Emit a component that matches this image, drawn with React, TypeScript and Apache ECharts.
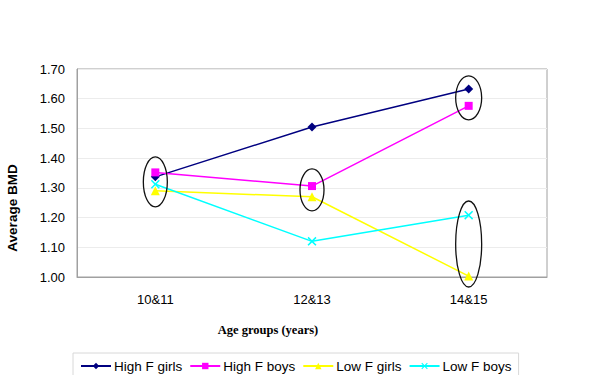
import React, { useEffect, useRef } from "react";
import * as echarts from "echarts";

const categories = ["10&11", "12&13", "14&15"];
const highFGirls = [1.337, 1.505, 1.633];
const highFBoys = [1.352, 1.306, 1.576];
const lowFGirls = [1.29, 1.27, 1.003];
const lowFBoys = [1.312, 1.12, 1.208];
const yTicks = [1.0, 1.1, 1.2, 1.3, 1.4, 1.5, 1.6, 1.7];

// annotation ellipses: category index, centre value, radii in px
const ellipses = [
  { cat: 0, val: 1.32, rx: 12, ry: 25 },
  { cat: 1, val: 1.293, rx: 12, ry: 21 },
  { cat: 2, val: 1.603, rx: 13, ry: 22 },
  { cat: 2, val: 1.111, rx: 13, ry: 43 },
];

const crossPath =
  "path://M0,1.2 L1.2,0 L5,3.8 L8.8,0 L10,1.2 L6.2,5 L10,8.8 L8.8,10 L5,6.2 L1.2,10 L0,8.8 L3.8,5 Z";

export default function App() {
  const ref = useRef<HTMLDivElement>(null);
  useEffect(() => {
    if (!ref.current) return;
    const chart = echarts.init(ref.current, undefined, { renderer: "svg" });
    const font = "Arial, 'Liberation Sans', sans-serif";
    const mk = (name: string, data: number[], color: string, symbol: string, size: number) => ({
      name,
      type: "line",
      data,
      symbol,
      symbolSize: size,
      showSymbol: true,
      lineStyle: { color, width: 1.5 },
      itemStyle: { color },
    });
    chart.setOption({
      animation: false,
      backgroundColor: "#ffffff",
      grid: {
        left: 77,
        right: 53,
        top: 69,
        bottom: 98,
        show: true,
        borderColor: "#a0a0a0",
        borderWidth: 1,
        backgroundColor: "transparent",
      },
      xAxis: {
        type: "category",
        data: categories,
        boundaryGap: true,
        axisLine: { show: true, lineStyle: { color: "#a0a0a0" } },
        axisTick: { show: false },
        axisLabel: { color: "#000", fontFamily: font, fontSize: 13, margin: 16 },
        splitLine: { show: false },
      },
      yAxis: {
        type: "value",
        min: yTicks[0],
        max: yTicks[yTicks.length - 1],
        interval: 0.1,
        axisLine: { show: true, lineStyle: { color: "#a0a0a0" } },
        axisTick: { show: false },
        axisLabel: {
          color: "#000",
          fontFamily: font,
          fontSize: 13,
          margin: 12,
          formatter: (v: number) => v.toFixed(2),
        },
        splitLine: { show: true, lineStyle: { color: "#ececec", width: 1 } },
      },
      legend: {
        bottom: -10,
        left: 73,
        width: 460,
        itemWidth: 30,
        itemHeight: 8,
        itemGap: 7,
        padding: [6, 7, 12, 7],
        borderColor: "#d8d8d8",
        borderWidth: 1,
        textStyle: { color: "#000", fontFamily: font, fontSize: 13.5, padding: [0, 0, 0, -2] },
        data: ["High F girls", "High F boys", "Low F girls", "Low F boys"],
      },
      series: [
        mk("High F girls", highFGirls, "#000080", "diamond", 9),
        mk("High F boys", highFBoys, "#ff00ff", "rect", 8),
        mk("Low F girls", lowFGirls, "#ffff00", "triangle", 9),
        mk("Low F boys", lowFBoys, "#00ffff", crossPath, 9),
      ],
    });

    const graphics: any[] = [
      {
        type: "text",
        x: 12,
        y: 208,
        rotation: Math.PI / 2,
        style: {
          text: "Average BMD",
          fill: "#000",
          font: `bold 13.5px ${font}`,
          align: "center",
          verticalAlign: "middle",
        },
      },
      {
        type: "text",
        x: 268,
        y: 330,
        style: {
          text: "Age groups (years)",
          fill: "#000",
          font: "bold 12.5px 'Times New Roman', 'Liberation Serif', serif",
          align: "center",
          verticalAlign: "middle",
        },
      },
    ];
    ellipses.forEach((e) => {
      const p = chart.convertToPixel({ gridIndex: 0 }, [e.cat, e.val]) as number[];
      graphics.push({
        type: "ellipse",
        shape: { cx: p[0], cy: p[1], rx: e.rx, ry: e.ry },
        style: { fill: "none", stroke: "#111", lineWidth: 1.3 },
        z: 10,
      });
    });
    chart.setOption({ graphic: graphics });
    return () => chart.dispose();
  }, []);
  return <div ref={ref} style={{ width: 600, height: 375, position: "absolute", left: 0, top: 0 }} />;
}
